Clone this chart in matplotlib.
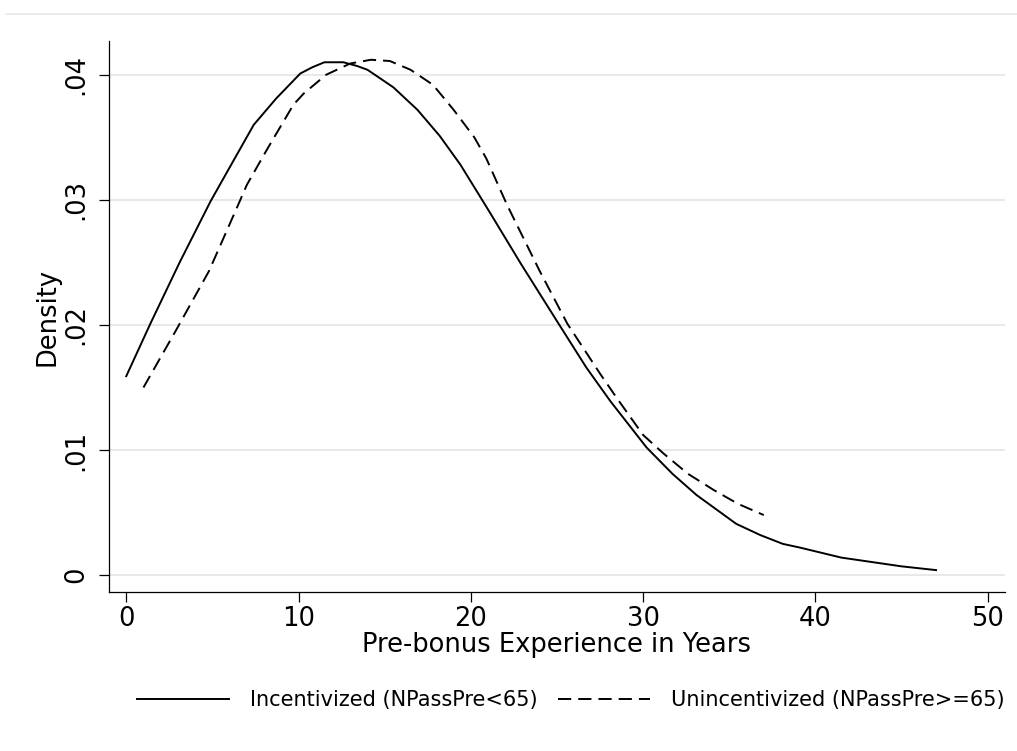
import matplotlib
matplotlib.use("Agg")
import matplotlib.pyplot as plt
from matplotlib.lines import Line2D

# kernel density curves
inc_x = [0, 1.4, 3.1, 4.9, 5.8, 7.4, 8.7, 10.1, 10.8, 11.5, 12.6, 13.4, 14.0, 15.5, 16.9,
         18.2, 19.4, 21.1, 22.9, 25.0, 26.7, 28.1, 30.2, 31.7, 33.1, 35.4, 36.8, 38.1,
         39.1, 40.0, 41.5, 43.0, 45.0, 47.0]
inc_y = [0.0159, 0.0201, 0.0250, 0.0299, 0.0321, 0.0360, 0.0381, 0.0401, 0.0406, 0.0410,
         0.0410, 0.0407, 0.0404, 0.0390, 0.0372, 0.0351, 0.0328, 0.0290, 0.0249, 0.0203,
         0.0166, 0.0139, 0.0102, 0.0081, 0.0064, 0.0041, 0.0032, 0.0025, 0.0022, 0.0019,
         0.0014, 0.0011, 0.0007, 0.0004]

uninc_x = [1.0, 2.9, 4.8, 6.4, 7.0, 8.2, 9.7, 10.3, 11.6, 13.0, 14.2, 15.3, 16.5, 17.8,
           19.0, 20.2, 20.9, 22.1, 24.0, 25.6, 27.5, 28.5, 30.0, 31.2, 32.6, 34.1, 35.5, 37.0]
uninc_y = [0.0150, 0.0196, 0.0243, 0.0293, 0.0312, 0.0341, 0.0376, 0.0385, 0.0400, 0.0409,
           0.0412, 0.0411, 0.0404, 0.0392, 0.0372, 0.0350, 0.0333, 0.0296, 0.0243, 0.0201,
           0.0161, 0.0141, 0.0112, 0.0097, 0.0081, 0.0068, 0.0057, 0.0048]

xticks = [0, 10, 20, 30, 40, 50]
yticks = [0, 0.01, 0.02, 0.03, 0.04]
ytick_labels = ["0", ".01", ".02", ".03", ".04"]

W, H = 1017, 751
fig = plt.figure(figsize=(W / 100, H / 100), dpi=100)
ax = fig.add_axes([109 / W, 1 - 592 / H, (1005 - 109) / W, (592 - 41) / H])

ax.plot(inc_x, inc_y, color="black", lw=1.4, label="Incentivized (NPassPre<65)")
ax.plot(uninc_x, uninc_y, color="black", lw=1.4, dashes=[6.8, 3.6],
        label="Unincentivized (NPassPre>=65)")

ax.set_xlim(-1, 51)
ax.set_ylim(-0.00135, 0.0427)
ax.set_xticks(xticks)
ax.set_yticks(yticks)
ax.set_yticklabels(ytick_labels, rotation=90, va="center")
ax.grid(axis="y", color="#e8e8e8", lw=1.4)
ax.set_axisbelow(True)
for s in ["top", "right"]:
    ax.spines[s].set_visible(False)
for s in ["left", "bottom"]:
    ax.spines[s].set_linewidth(0.9)
ax.tick_params(direction="out", length=7, width=0.9, labelsize=18.5)
ax.tick_params(axis="x", pad=3)
ax.tick_params(axis="y", pad=7)

ax.set_xlabel("Pre-bonus Experience in Years", fontsize=18.5, labelpad=0)
ax.set_ylabel("Density", fontsize=18.5, labelpad=2)

fig.legend(loc="center", bbox_to_anchor=(571 / W, 1 - 700 / H), ncol=2, frameon=False,
           fontsize=15, handlelength=4.4, columnspacing=1.0, handletextpad=1.0)

# thin border line at the top of the graph region
fig.add_artist(Line2D([6 / W, 1], [1 - 14 / H, 1 - 14 / H], color="#e8e8e8", lw=1.2,
                      transform=fig.transFigure))

fig.savefig("out.png", dpi=100, facecolor="white")
